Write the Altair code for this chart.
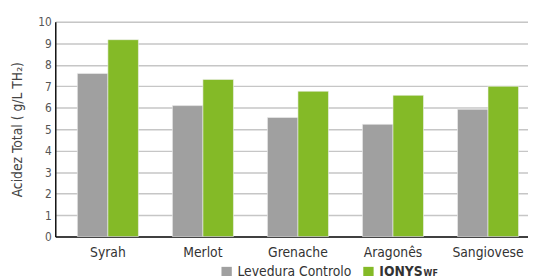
import altair as alt
import pandas as pd

categories = ["Syrah", "Merlot", "Grenache", "Aragonês", "Sangiovese"]
series = ["Levedura Controlo", "IONYS"]
controlo = [7.6, 6.1, 5.55, 5.23, 5.93]
ionys = [9.17, 7.32, 6.77, 6.58, 7.0]
y_ticks = list(range(0, 11))

rows = []
for c, a, b in zip(categories, controlo, ionys):
    rows.append({"cat": c, "serie": series[0], "val": a})
    rows.append({"cat": c, "serie": series[1], "val": b})
df = pd.DataFrame(rows)

FONT = "DejaVu Sans Condensed, DejaVu Sans, sans-serif"

bars = alt.Chart(df).mark_bar(stroke="#f2f2f2", strokeWidth=0.6).encode(
    x=alt.X("cat:N", sort=categories,
            scale=alt.Scale(paddingInner=0.3575, paddingOuter=0.166, align=0.7),
            axis=alt.Axis(title=None, labelAngle=0, labelFontSize=14, labelColor="#333333",
                          labelFont=FONT, ticks=False, labelPadding=9,
                          domainColor="#111111", domainWidth=1.5, grid=False)),
    xOffset=alt.XOffset("serie:N", sort=series),
    y=alt.Y("val:Q", scale=alt.Scale(domain=[0, 10], nice=False),
            axis=alt.Axis(title="Acidez Total ( g/L TH₂)", values=y_ticks, ticks=False,
                          labelFontSize=12, labelColor="#555555", labelFont=FONT,
                          labelPadding=4, titleFont=FONT, titleFontSize=14,
                          titleFontWeight="normal", titleColor="#444444", titlePadding=14,
                          domainColor="#111111", domainWidth=1.5,
                          gridColor="#c6c6c6", gridWidth=1.5)),
    color=alt.Color("serie:N", sort=series,
                    scale=alt.Scale(domain=series, range=["#a0a0a0", "#84ba27"]),
                    legend=alt.Legend(title=None, orient="none", legendX=167, legendY=247,
                                      direction="horizontal", symbolType="square",
                                      symbolSize=110, symbolStrokeWidth=0,
                                      labelFont=FONT, labelFontSize=14, labelColor="#333333",
                                      labelFontWeight={"expr": "datum.label == 'IONYS' ? 'bold' : 'normal'"},
                                      columnPadding=10, labelOffset=4, padding=0)),
)

wf = alt.Chart(pd.DataFrame({"t": ["WF"]})).mark_text(
    align="left", baseline="alphabetic", fontSize=9, font=FONT, color="#333333", fontWeight="bold"
).encode(x=alt.value(374), y=alt.value(258), text="t:N")

chart = alt.layer(bars, wf).properties(
    width=480, height=218,
    autosize=alt.AutoSizeParams(type="none"),
    padding={"left": 48, "top": 12, "right": 0, "bottom": 40},
).configure_view(stroke=None).configure(background="white")

chart.save("out.html", embed_options={"renderer": "svg", "actions": False})
